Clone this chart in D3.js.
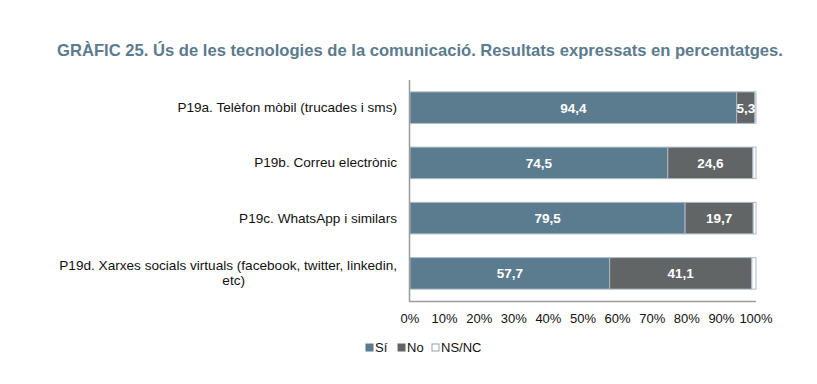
<!DOCTYPE html>
<html>
<head>
<meta charset="utf-8">
<script src="https://cdn.jsdelivr.net/npm/d3@7"></script>
<style>
  body { margin: 0; background: #fff; }
  text { font-family: "Liberation Sans", Arial, sans-serif; }
</style>
</head>
<body>
<svg id="chart"></svg>
<script>
var width = 817, height = 384
var categories = ["P19a. Telèfon mòbil (trucades i sms)", "P19b. Correu electrònic", "P19c. WhatsApp i similars", "P19d. Xarxes socials virtuals (facebook, twitter, linkedin, etc)"]
var labelLines = [["P19a. Telèfon mòbil (trucades i sms)"], ["P19b. Correu electrònic"], ["P19c. WhatsApp i similars"], ["P19d. Xarxes socials virtuals (facebook, twitter, linkedin,", "etc)"]]
var series = ["Sí", "No", "NS/NC"]
var si = [94.4, 74.5, 79.5, 57.7]
var no = [5.3, 24.6, 19.7, 41.1]
var nsnc = [0.3, 0.9, 0.8, 1.2]
var tickValues = [0, 10, 20, 30, 40, 50, 60, 70, 80, 90, 100]
var colors = ["#5b7b8e", "#626566", "#ffffff"]
var title = "GRÀFIC 25. Ús de les tecnologies de la comunicació. Resultats expressats en percentatges."

var svg = d3.select("#chart").attr("width", width).attr("height", height)

svg.append("text")
    .attr("x", 420).attr("y", 56)
    .attr("text-anchor", "middle")
    .attr("font-size", "16.6px")
    .attr("font-weight", "bold")
    .style("fill", "#5b7b8e")
    .text(title)

var x = d3.scaleLinear().domain([0, 100]).range([410, 756])
var y = d3.scaleBand().domain(categories).range([80, 301]).paddingInner(0.43).paddingOuter(0.215)

var rows = categories.map((c, i) => ({cat: c, vals: [si[i], no[i], nsnc[i]]}))
var stacked = []
rows.forEach(r => {
    var acc = 0
    r.vals.forEach((v, k) => {
        stacked.push({cat: r.cat, k: k, x0: acc, x1: acc + v, v: v})
        acc += v
    })
})

svg.selectAll("rect.bar").data(stacked).enter().append("rect")
    .attr("class", "bar")
    .attr("x", d => x(d.x0))
    .attr("y", d => y(d.cat))
    .attr("width", d => Math.max(x(d.x1) - x(d.x0), 1))
    .attr("height", y.bandwidth())
    .attr("fill", d => colors[d.k])
    .attr("stroke", "#a9bac6")
    .attr("stroke-width", 1)

svg.selectAll("text.val").data(stacked.filter(d => d.k < 2)).enter().append("text")
    .attr("class", "val")
    .attr("x", d => (x(d.x0) + x(d.x1)) / 2)
    .attr("y", d => y(d.cat) + y.bandwidth() / 2 + 5)
    .attr("text-anchor", "middle")
    .attr("font-size", "13.5px")
    .attr("font-weight", "bold")
    .style("fill", "#ffffff")
    .text(d => d3.format(".1f")(d.v).replace(".", ","))

// axes lines
svg.append("line").attr("x1", 409.5).attr("x2", 409.5).attr("y1", 80).attr("y2", 301.5)
    .attr("stroke", "#9a9a9a").attr("stroke-width", 1.5)
svg.append("line").attr("x1", 409).attr("x2", x(100)).attr("y1", 301.5).attr("y2", 301.5)
    .attr("stroke", "#9a9a9a").attr("stroke-width", 1.5)

svg.selectAll("text.tick").data(tickValues).enter().append("text")
    .attr("class", "tick")
    .attr("x", d => x(d))
    .attr("y", 323)
    .attr("text-anchor", "middle")
    .attr("font-size", "13px")
    .style("fill", "#111")
    .text(d => d + "%")

categories.forEach((c, i) => {
    var lines = labelLines[i]
    var cy = y(c) + y.bandwidth() / 2
    var t = svg.append("text")
        .attr("text-anchor", "end")
        .attr("font-size", "13.6px")
        .style("fill", "#111")
    lines.forEach((l, j) => {
        t.append("tspan")
            .attr("x", l === "etc)" ? 245 : 397)
            .attr("y", cy + 4.5 + (j - (lines.length - 1) / 2) * 15)
            .text(l)
    })
})

// legend
var legX = [366, 398, 432]
series.forEach((s, k) => {
    svg.append("rect")
        .attr("x", legX[k]).attr("y", 344)
        .attr("width", 7).attr("height", 7)
        .attr("fill", colors[k])
        .attr("stroke", k === 2 ? "#8aa0af" : colors[k])
        .attr("stroke-width", 1)
    svg.append("text")
        .attr("x", legX[k] + 9).attr("y", 352)
        .attr("font-size", "13px")
        .style("fill", "#111")
        .text(s)
})
</script>
</body>
</html>
